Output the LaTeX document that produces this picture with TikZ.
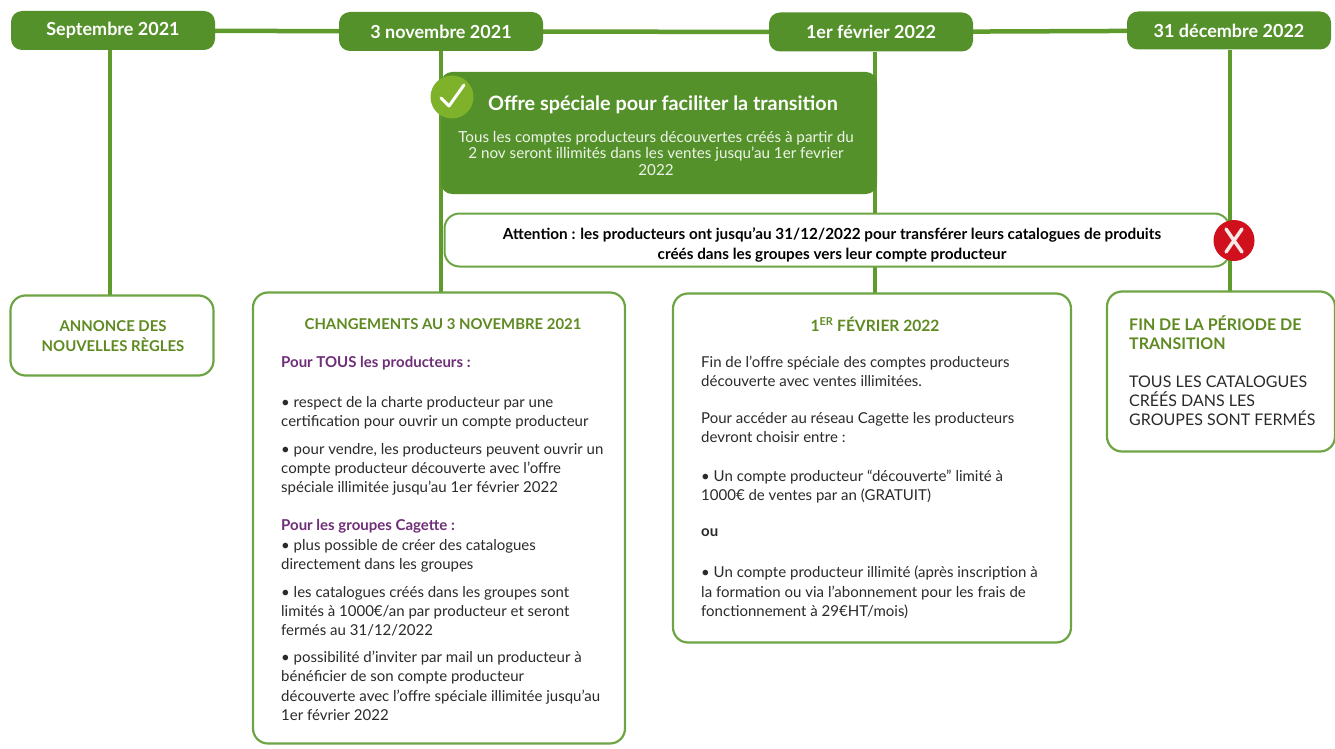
\documentclass[tikz,border=0pt]{standalone}
\usepackage{fontspec}
\usetikzlibrary{backgrounds}
\setmainfont{Lato}
\definecolor{gbar}{HTML}{5E9A2C}
\definecolor{gdark}{HTML}{55912A}
\definecolor{gline}{HTML}{6EA544}
\definecolor{ghead}{HTML}{5F8A22}
\definecolor{gcheck}{HTML}{7FB22B}
\definecolor{purp}{HTML}{6F2F78}
\definecolor{ink}{HTML}{2A2A2A}
\definecolor{xred}{HTML}{D0101C}
\tikzset{
 datebox/.style={fill=gdark,rounded corners=11pt,minimum width=204pt,minimum height=39pt,inner sep=0pt,text=white,font=\fontsize{18}{20}\selectfont\bfseries},
 bar/.style={draw=gbar,line width=4.5pt},
 card/.style={draw=gline,line width=2.2pt,fill=white,rounded corners=15pt,inner sep=0pt},
 body/.style={anchor=north west,align=left,inner sep=0pt,text=ink,font=\fontsize{15}{19.3}\selectfont},
 headg/.style={inner sep=0pt,text=ghead,font=\fontsize{14.9}{20}\selectfont\bfseries},
 headp/.style={anchor=north west,align=left,inner sep=0pt,text=purp,font=\fontsize{15}{20}\selectfont\bfseries},
}
\begin{document}
\begin{tikzpicture}[x=1pt,y=-1pt]
\useasboundingbox (0,0) rectangle (1335,749);
% dates
\node[datebox] (d1) at (113,30.5) {Septembre 2021};
\node[datebox] (d2) at (441,31.5) {3 novembre 2021};
\node[datebox] (d3) at (871,32) {1er février 2022};
\node[datebox,minimum height=38pt] (d4) at (1229,30.5) {31 décembre 2022};
% timeline bars, behind everything
\coordinate (c1) at (110,296);
\coordinate (c2) at (441,294);
\coordinate (c3) at (875,294);
\coordinate (c4) at (1230,292);
\begin{scope}[on background layer]
\draw[bar] (d1) -- (d2);
\draw[bar] (d2) -- (d3);
\draw[bar] (d3) -- (d4);
\draw[bar] (d1.south -| c1) -- (c1);
\draw[bar] (d2.south -| c2) -- (c2);
\draw[bar] (d3.south -| c3) -- (c3);
\draw[bar] (d4.south -| c4) -- (c4);
\end{scope}
% offer
\node[fill=gdark,rounded corners=11pt,minimum width=436pt,minimum height=122pt,inner sep=0pt] (offer) at (659,133) {};
\node[circle,fill=gcheck,minimum size=43pt,inner sep=0pt] (chk) at (452,97) {};
\draw[white,line width=3pt,line cap=round,line join=round] (441,98) -- (449,106) -- (464,85);
\node[inner sep=0pt,text=white,font=\fontsize{19.8}{22}\selectfont\bfseries] (offt) at (663,105) {Offre spéciale pour faciliter la transition};
\node[inner sep=0pt,text=white!90!gdark,align=center,font=\fontsize{15.2}{16.5}\selectfont] (offb) at (656,153) {Tous les comptes producteurs découvertes créés à partir du\\2 nov seront illimités dans les ventes jusqu'au 1er fevrier\\2022};
% attention
\node[draw=gline,line width=2pt,fill=white,rounded corners=15pt,minimum width=785pt,minimum height=53pt,inner sep=0pt] (att) at (837,240) {};
\node[inner sep=0pt,text=black,align=center,font=\fontsize{15.3}{20}\selectfont\bfseries] (attt) at (832,244.5) {Attention : les producteurs ont jusqu'au 31/12/2022 pour transférer leurs catalogues de produits\\créés dans les groupes vers leur compte producteur};
\node[circle,fill=xred,minimum size=41pt,inner sep=0pt] (xx) at (1234,240.5) {};
\draw[white!90!xred,line width=3.5pt,line cap=round] (1226,229) -- (1242,252) (1242,229) -- (1226,252);
% card 1
\node[card,minimum width=203pt,minimum height=80pt] (k1) at (112,335.5) {};
\node[headg,align=center] (k1t) at (113,336.5) {ANNONCE DES\\NOUVELLES RÈGLES};
% card 2
\node[card,minimum width=372pt,minimum height=451pt] (k2) at (439,518) {};
\node[headg] (k2t) at (443,324) {CHANGEMENTS AU 3 NOVEMBRE 2021};
\node[headp] (p1) at (281,356) {Pour TOUS les producteurs :};
\node[body] (b1) at (281,396) {• respect de la charte producteur par une\\certification pour ouvrir un compte producteur};
\node[body] (b2) at (281,443) {• pour vendre, les producteurs peuvent ouvrir un\\compte producteur découverte avec l'offre\\spéciale illimitée jusqu'au 1er février 2022};
\node[headp] (p2) at (281,519) {Pour les groupes Cagette :};
\node[body] (b3) at (281,539) {• plus possible de créer des catalogues\\directement dans les groupes};
\node[body] (b4) at (281,586) {• les catalogues créés dans les groupes sont\\limités à 1000€/an par producteur et seront\\fermés au 31/12/2022};
\node[body] (b5) at (281,651) {• possibilité d'inviter par mail un producteur à\\bénéficier de son compte producteur\\découverte avec l'offre spéciale illimitée jusqu'au\\1er février 2022};
% card 3
\node[card,minimum width=398pt,minimum height=349pt] (k3) at (872,468) {};
\node[headg,font=\fontsize{15.6}{20}\selectfont\bfseries] (k3t) at (875,324) {1\textsuperscript{ER} FÉVRIER 2022};
\node[body] (c3a) at (701,356) {Fin de l'offre spéciale des comptes producteurs\\découverte avec ventes illimitées.};
\node[body] (c3b) at (701,412) {Pour accéder au réseau Cagette les producteurs\\devront choisir entre :};
\node[body] (c3c) at (701,470) {• Un compte producteur ``découverte'' limité à\\1000€ de ventes par an (GRATUIT)};
\node[body,font=\fontsize{15}{19}\selectfont\bfseries] (c3d) at (701,528) {ou};
\node[body] (c3e) at (701,566) {• Un compte producteur illimité (après inscription à\\la formation ou via l'abonnement pour les frais de\\fonctionnement à 29€HT/mois)};
% card 4
\node[card,minimum width=228pt,minimum height=160pt] (k4) at (1221,371.5) {};
\node[headg,anchor=north west,align=left,font=\fontsize{16}{19}\selectfont\bfseries] (k4t) at (1129,315) {FIN DE LA PÉRIODE DE\\TRANSITION};
\node[body,font=\fontsize{16}{19}\selectfont] (k4b) at (1129,376) {TOUS LES CATALOGUES\\CRÉÉS DANS LES\\GROUPES SONT FERMÉS};
\end{tikzpicture}
\end{document}
